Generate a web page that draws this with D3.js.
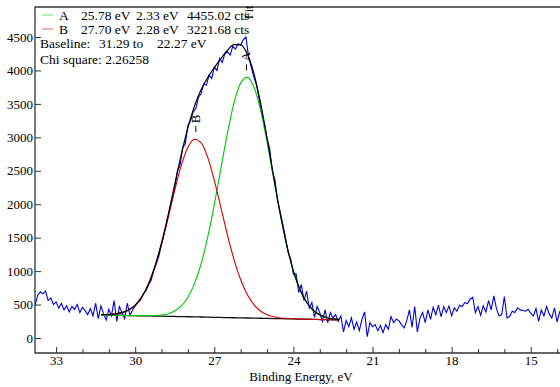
<!DOCTYPE html>
<html>
<head>
<meta charset="utf-8">
<script src="https://cdn.jsdelivr.net/npm/d3@7"></script>
<style>
  body { margin: 0; background: #fff; }
  svg text { font-family: 'Liberation Serif', 'DejaVu Serif', serif; fill: #000; }
</style>
</head>
<body>
<svg id="chart" width="560" height="387"></svg>
<script>
// measured spectrum, one value every 0.1 eV starting at 33.8 eV
const spectrumStart = 33.8;
const spectrumStep = 0.1;
const counts = [
  480, 640, 690, 660, 700, 560, 600, 500, 540, 450,
  520, 420, 480, 390, 470, 430, 500, 380, 460, 410,
  350, 440, 330, 520, 290, 480, 360, 270, 430, 330,
  560, 250, 470, 380, 290, 520, 340, 420, 480, 530,
  570, 650, 700, 790, 860, 1000, 1110, 1230, 1400, 1560,
  1720, 1900, 2080, 2240, 2500, 2580, 2850, 2900, 3180, 3250,
  3380, 3430, 3600, 3650, 3800, 3780, 3930, 3880, 4050, 4000,
  4180, 4120, 4250, 4280, 4230, 4360, 4320, 4400, 4380, 4460,
  4500, 4200, 4050, 3900, 3780, 3580, 3350, 3200, 2980, 2830,
  2500, 2360, 2050, 1880, 1700, 1500, 1280, 1180, 950, 960,
  680, 800, 560, 700, 450, 530, 310, 470, 380, 250,
  420, 230, 380, 300, 350, 250,
  330, 90, 260, 170, 300, 130, 240, 110, 280, 390,
  20, 230, 170, 200, 110, 190, 80, 200, 130, 320,
  230, 280, 260, 200, 150, 260, 420, 160, 470, 90,
  300, 380, 230, 420, 280, 460, 350, 490, 320, 470,
  380, 480, 330, 450, 400, 490, 470, 530, 510, 580,
  610, 380, 470, 340, 480, 390, 560, 420, 630, 440,
  330, 350, 620, 300, 320, 400, 380, 450, 420, 410,
  400, 430, 370, 330, 440, 250, 420, 330, 470, 360,
  300, 450, 240, 400
];

// fit curves at these energies
const fitEnergy = [31.29, 31.0, 30.75, 30.5, 30.25, 30.0, 29.75, 29.5, 29.25, 29.0,
  28.75, 28.5, 28.25, 28.0, 27.75, 27.5, 27.25, 27.0, 26.75, 26.5,
  26.25, 26.0, 25.75, 25.5, 25.25, 25.0, 24.75, 24.5, 24.25, 24.0,
  23.75, 23.5, 23.25, 23.0, 22.75, 22.5, 22.27];
const baselineFit = [345, 343, 341, 338, 336, 334, 332, 330, 328, 326,
  324, 322, 320, 318, 316, 314, 312, 309, 307, 305,
  303, 301, 299, 297, 295, 293, 291, 289, 287, 285,
  282, 280, 278, 276, 274, 272, 270];
const peakAFit = [345, 343, 341, 338, 336, 334, 333, 333, 336, 344,
  364, 405, 480, 610, 813, 1110, 1507, 1994, 2535, 3068,
  3519, 3813, 3897, 3756, 3414, 2932, 2386, 1850, 1378, 1000,
  722, 534, 415, 346, 307, 287, 277];
const peakBFit = [348, 351, 360, 379, 419, 492, 615, 802, 1066, 1406,
  1801, 2212, 2584, 2853, 2972, 2918, 2700, 2357, 1950, 1539,
  1169, 870, 649, 498, 403, 347, 317, 300, 292, 287,
  282, 280, 278, 276, 274, 272, 270];
const envelopeFit = [348, 351, 360, 379, 419, 492, 616, 805, 1074, 1424,
  1841, 2295, 2744, 3145, 3469, 3714, 3895, 4042, 4178, 4302,
  4385, 4382, 4247, 3957, 3522, 2986, 2412, 1861, 1383, 1002,
  722, 534, 415, 346, 307, 287, 277];

const peakNames = ['A', 'B'];
const peakCenters = [25.78, 27.70];
const peakFwhm = ['2.33', '2.28'];
const peakHeights = ['4455.02', '3221.68'];
const peakColors = ['#00c800', '#d00000'];
const baselineRange = ['31.29', '22.27'];
const chiSquare = '2.26258';

const xMajor = [33, 30, 27, 24, 21, 18, 15];
const xMinor = [32, 31, 29, 28, 26, 25, 23, 22, 20, 19, 17, 16, 14];
const yTicks = [0, 500, 1000, 1500, 2000, 2500, 3000, 3500, 4000, 4500];

const margin = {left: 35, right: 560, top: 7, bottom: 353};

const x = d3.scaleLinear().domain([33.8, 13.89]).range([margin.left, margin.right]);
const y = d3.scaleLinear().domain([0, 4500]).range([338, 37]);

const svg = d3.select('#chart');

svg.append('clipPath').attr('id', 'plot')
  .append('rect')
  .attr('x', margin.left).attr('y', margin.top)
  .attr('width', margin.right - margin.left).attr('height', margin.bottom - margin.top);

const data = counts.map((c, i) => ({e: spectrumStart - i * spectrumStep, v: c}));

const raw = d3.line().x(d => x(d.e)).y(d => y(d.v));
const smooth = d3.line().x((d, i) => x(fitEnergy[i])).y(d => y(d)).curve(d3.curveMonotoneX);

const plot = svg.append('g').attr('clip-path', 'url(#plot)');

plot.append('path')
  .attr('d', raw(data))
  .attr('fill', 'none')
  .attr('stroke', '#0000d8')
  .attr('stroke-width', 1.1);

plot.append('path').attr('d', smooth(baselineFit))
  .attr('fill', 'none').attr('stroke', '#111').attr('stroke-width', 1.3);
plot.append('path').attr('d', smooth(peakAFit))
  .attr('fill', 'none').attr('stroke', peakColors[0]).attr('stroke-width', 1.1);
plot.append('path').attr('d', smooth(peakBFit))
  .attr('fill', 'none').attr('stroke', peakColors[1]).attr('stroke-width', 1.1);
plot.append('path').attr('d', smooth(envelopeFit))
  .attr('fill', 'none').attr('stroke', '#000').attr('stroke-width', 1.2);

// axes, ticks point inward
svg.append('g')
  .attr('transform', `translate(0,${margin.bottom})`)
  .call(d3.axisBottom(x).tickValues(xMajor).tickSize(-6).tickPadding(3).tickFormat(d3.format('d')))
  .call(g => g.select('.domain').remove());

svg.append('g')
  .attr('transform', `translate(0,${margin.bottom})`)
  .call(d3.axisBottom(x).tickValues(xMinor).tickSize(-4).tickFormat(''))
  .call(g => g.select('.domain').remove());

svg.append('g')
  .attr('transform', `translate(${margin.left},0)`)
  .call(d3.axisLeft(y).tickValues(yTicks).tickSize(-6).tickPadding(2).tickFormat(d3.format('d')))
  .call(g => g.select('.domain').remove());

svg.selectAll('.tick line').attr('stroke', '#333');
svg.selectAll('.tick text')
  .attr('fill', '#000')
  .attr('font-family', 'Liberation Serif, serif')
  .style('font-size', '13px');

// frame
svg.append('path')
  .attr('d', `M${margin.right},${margin.top}H${margin.left}V${margin.bottom}H${margin.right}`)
  .attr('fill', 'none')
  .attr('stroke', '#333')
  .attr('stroke-width', 1.3);

svg.append('text')
  .attr('x', 301).attr('y', 381)
  .attr('text-anchor', 'middle')
  .style('font-size', '13px')
  .text('Binding Energy, eV');

// peak markers
const peakTops = [d3.max(peakAFit), d3.max(peakBFit)];
peakNames.forEach((name, i) => {
  const px = x(peakCenters[i]);
  const py = y(peakTops[i]);
  svg.append('line')
    .attr('x1', px).attr('x2', px)
    .attr('y1', py - 13).attr('y2', py - 7)
    .attr('stroke', '#000');
  svg.append('text')
    .attr('transform', `translate(${px + 4},${py - 16}) rotate(-90)`)
    .style('font-size', '13px')
    .text(name);
});
svg.append('text')
  .attr('transform', `translate(${x(25.7) + 4},19) rotate(-90)`)
  .style('font-size', '12px')
  .text('Fit');

// legend
const legend = svg.append('g').style('font-size', '13.5px');
peakNames.forEach((name, i) => {
  const ly = 20 + i * 14;
  legend.append('line')
    .attr('x1', 42).attr('x2', 53)
    .attr('y1', ly - 5).attr('y2', ly - 5)
    .attr('stroke', peakColors[i]).attr('stroke-opacity', 0.6);
  legend.append('text').attr('x', 59).attr('y', ly).text(name);
  legend.append('text').attr('x', 81).attr('y', ly).text(peakCenters[i].toFixed(2) + ' eV');
  legend.append('text').attr('x', 136).attr('y', ly).text(peakFwhm[i] + ' eV');
  legend.append('text').attr('x', 187).attr('y', ly).text(peakHeights[i] + ' cts');
});
legend.append('text').attr('x', 40).attr('y', 48).text('Baseline:');
legend.append('text').attr('x', 99).attr('y', 48).text(baselineRange[0] + ' to');
legend.append('text').attr('x', 157).attr('y', 48).text(baselineRange[1] + ' eV');
legend.append('text').attr('x', 40).attr('y', 64).text('Chi square: ' + chiSquare);
</script>
</body>
</html>
